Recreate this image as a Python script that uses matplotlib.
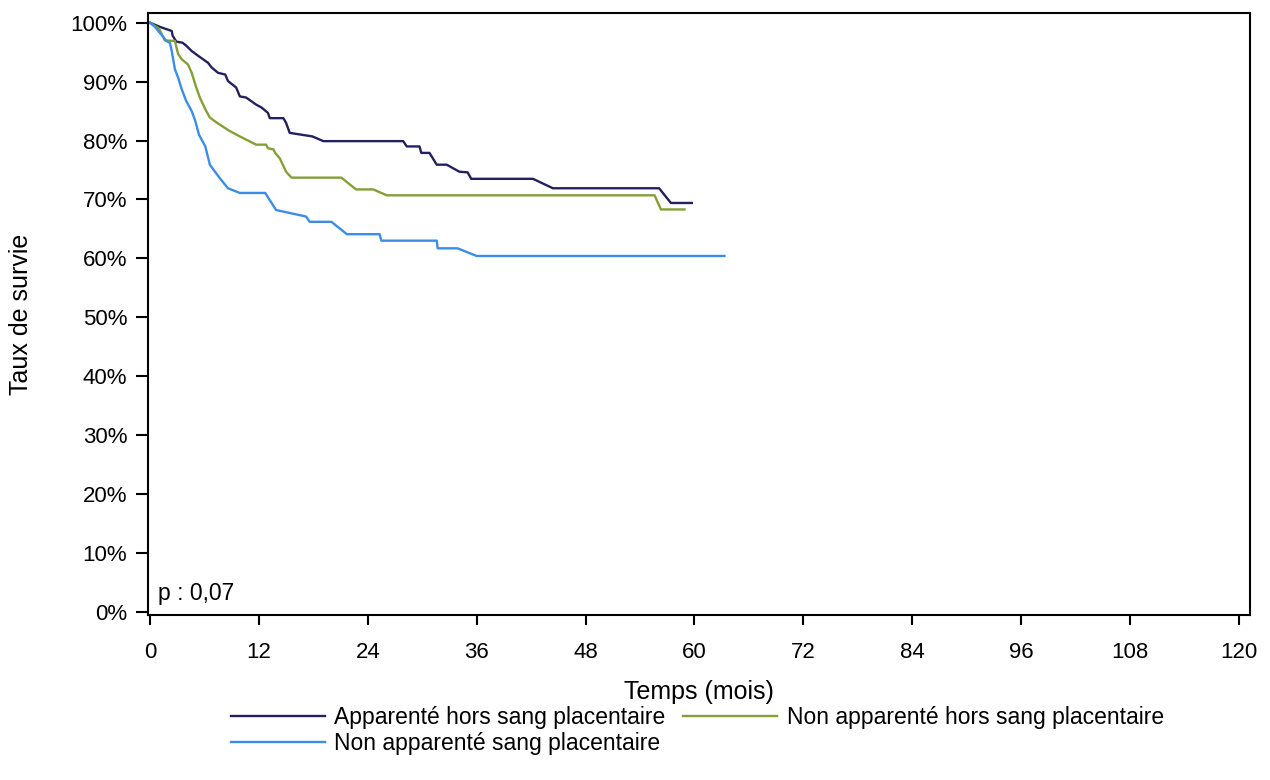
import matplotlib.pyplot as plt
from matplotlib.ticker import FuncFormatter

plt.rcParams["font.family"] = ["Liberation Sans", "DejaVu Sans"]

# Apparenté hors sang placentaire
t_app = [0, 1.1, 2.4, 2.5, 2.9, 3.6, 4.0, 4.6, 5.3, 6.4, 6.8, 7.5, 8.3, 8.6, 9.5, 9.9,
         10.6, 11.7, 12.3, 13.0, 13.2, 14.7, 15.0, 15.4, 17.9, 19.1, 27.9, 28.3, 29.7,
         29.9, 30.8, 31.6, 32.7, 34.1, 35.0, 35.4, 42.2, 44.4, 56.1, 57.4, 59.7]
s_app = [100, 99.3, 98.6, 97.8, 96.8, 96.6, 96.1, 95.2, 94.4, 93.2, 92.4, 91.5, 91.2, 90.1,
         89.0, 87.5, 87.3, 86.1, 85.6, 84.7, 83.8, 83.8, 83.0, 81.3, 80.7, 79.9, 79.9, 79.0,
         79.0, 77.9, 77.9, 75.9, 75.9, 74.7, 74.6, 73.5, 73.5, 71.9, 71.9, 69.4, 69.4]

# Non apparenté hors sang placentaire
t_nahs = [0, 1.0, 1.65, 2.75, 3.1, 3.5, 4.2, 4.6, 5.1, 5.5, 6.1, 6.6, 7.4, 8.8, 9.9, 11.7,
          12.8, 13.0, 13.6, 13.8, 14.3, 15.0, 15.6, 21.1, 22.7, 24.6, 26.1, 55.6, 56.3, 58.9]
s_nahs = [100, 99.0, 97.0, 96.9, 94.7, 93.8, 92.9, 91.5, 89.0, 87.3, 85.3, 83.9, 83.0, 81.6,
          80.7, 79.3, 79.3, 78.7, 78.5, 77.9, 77.0, 74.7, 73.7, 73.7, 71.7, 71.7, 70.7, 70.7,
          68.3, 68.3]

# Non apparenté sang placentaire
t_nasp = [0, 0.55, 1.5, 1.8, 2.2, 2.4, 2.75, 3.1, 3.5, 4.0, 4.6, 5.0, 5.4, 6.1, 6.6, 7.7,
          8.6, 9.9, 12.7, 13.9, 17.2, 17.6, 20.0, 21.7, 25.3, 25.5, 31.6, 31.7, 33.9, 36.0, 63.3]
s_nasp = [100, 99.3, 97.5, 96.9, 96.6, 95.2, 92.1, 90.7, 88.7, 86.7, 85.0, 83.3, 81.0, 79.0,
          75.9, 73.6, 71.9, 71.1, 71.1, 68.2, 67.1, 66.2, 66.2, 64.1, 64.1, 63.0, 63.0, 61.7,
          61.7, 60.4, 60.4]

x_ticks = list(range(0, 121, 12))
y_ticks = list(range(0, 101, 10))

fig = plt.figure(figsize=(12.7, 7.8), dpi=100)
ax = fig.add_axes([0.1165, 0.2115, 0.8677, 0.7718])

l1, = ax.plot(t_app, s_app, color="#23205e", lw=1.7, label="Apparenté hors sang placentaire")
l2, = ax.plot(t_nahs, s_nahs, color="#84a035", lw=1.7, label="Non apparenté hors sang placentaire")
l3, = ax.plot(t_nasp, s_nasp, color="#3b8de8", lw=1.7, label="Non apparenté sang placentaire")

ax.set_xlim(-0.22, 121.2)
ax.set_ylim(-0.56, 101.65)
ax.set_xticks(x_ticks)
ax.set_yticks(y_ticks)
ax.yaxis.set_major_formatter(FuncFormatter(lambda v, p: f"{int(v)}%"))
ax.tick_params(axis="x", direction="out", length=7.5, width=1.5, pad=12, labelsize=16)
ax.tick_params(axis="y", direction="out", length=9, width=1.5, pad=6, labelsize=16)
for sp in ax.spines.values():
    sp.set_linewidth(1.5)

ax.set_xlabel("Temps (mois)", fontsize=18)
ax.xaxis.set_label_coords(0.5, -0.108)
ax.set_ylabel("Taux de survie", fontsize=18)
ax.yaxis.set_label_coords(-0.104, 0.5)
ax.text(0.9, 1.2, "p : 0,07", fontsize=16.5, va="bottom", ha="left")

# row-major order like the original: handles reordered for column filling
fig.legend([l1, l3, l2], [l1.get_label(), l3.get_label(), l2.get_label()],
           loc="upper center", bbox_to_anchor=(0.549, 0.115), ncol=2, frameon=False,
           fontsize=16.5, handlelength=4.1, columnspacing=0.8, labelspacing=0.1,
           handletextpad=0.4, borderpad=0.2)

fig.savefig("out.png", dpi=100)
